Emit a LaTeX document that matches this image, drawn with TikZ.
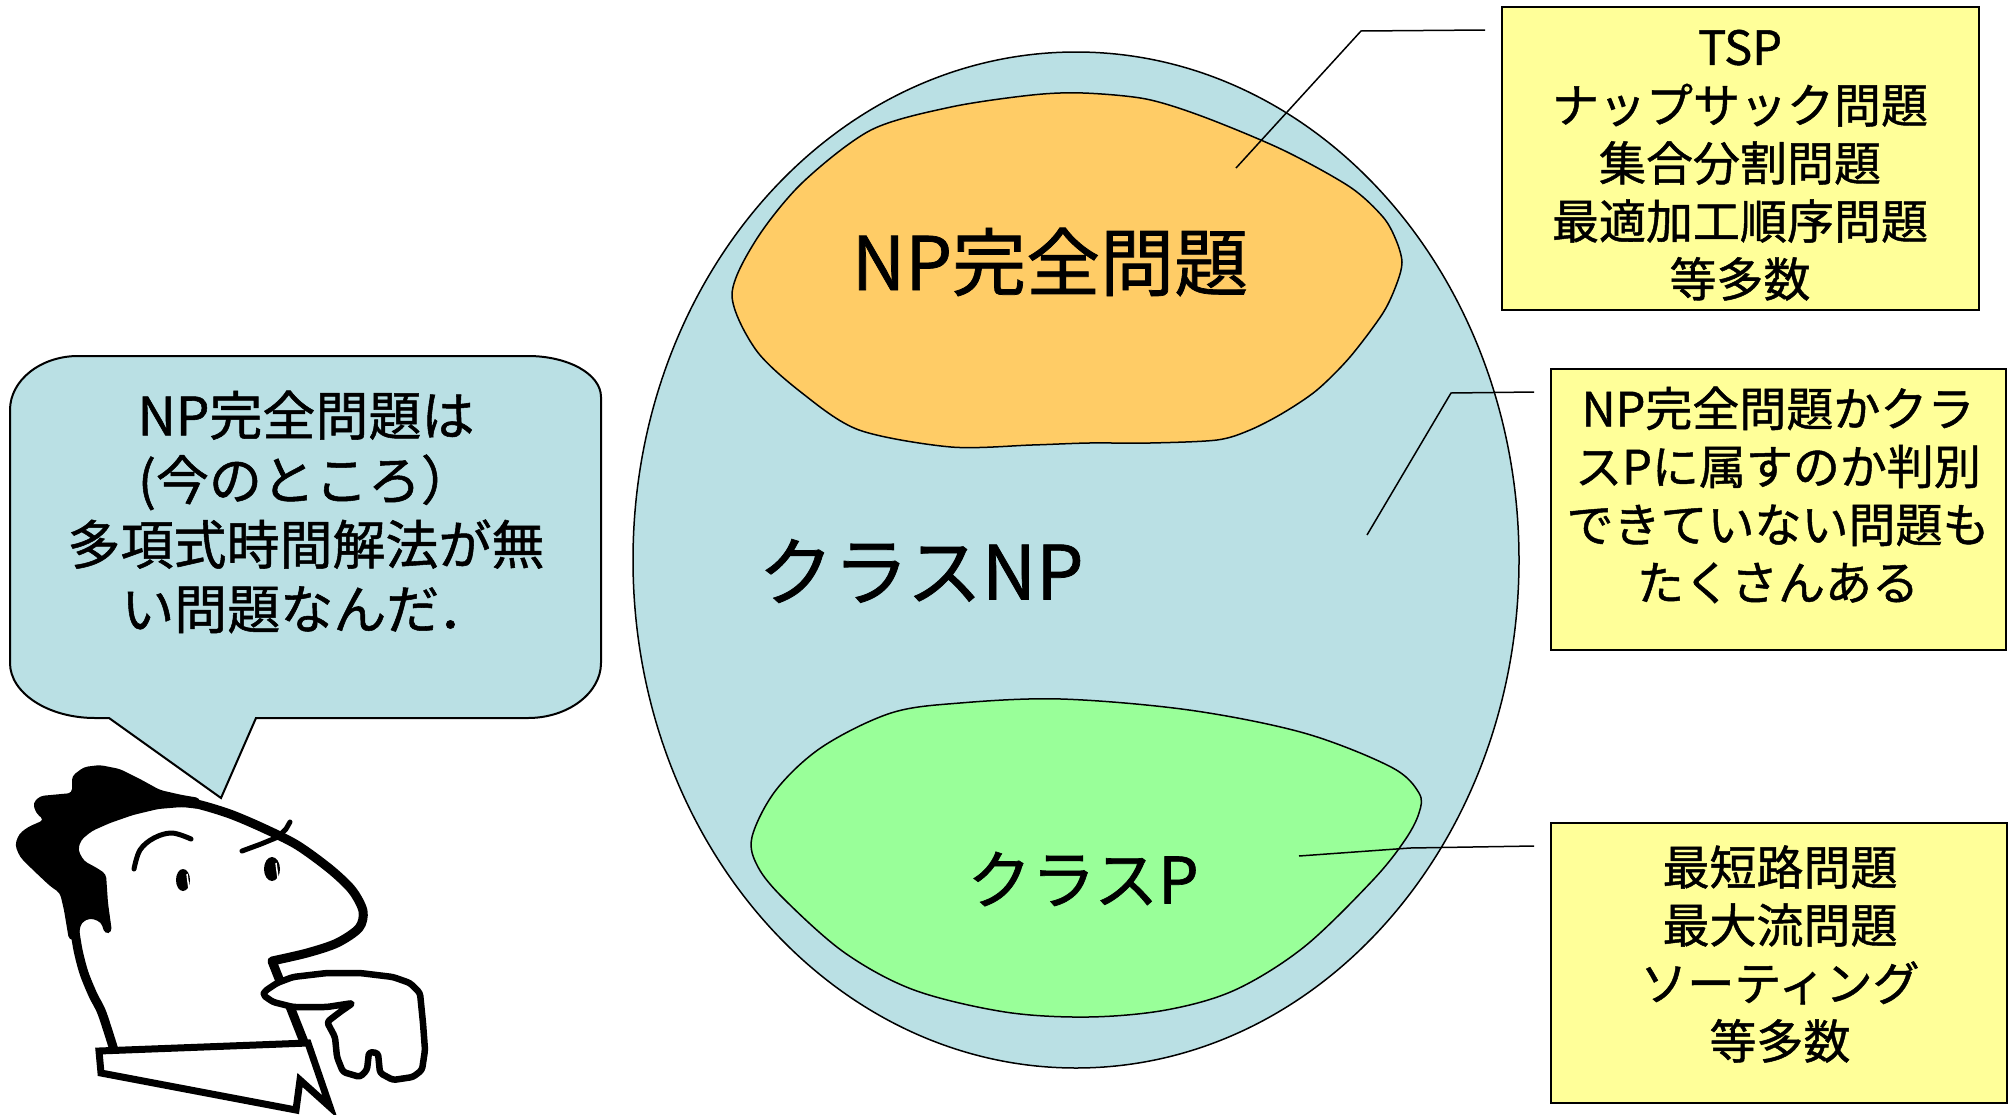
\documentclass[tikz,border=0pt]{standalone}
\usepackage{fontspec}
\setmainfont{Noto Sans CJK JP}[FakeBold=1.0]
\usetikzlibrary{calc}
\definecolor{npblue}{RGB}{186,224,228}
\definecolor{npcorange}{RGB}{255,204,102}
\definecolor{pgreen}{RGB}{153,255,153}
\definecolor{noteyellow}{RGB}{255,255,153}
\begin{document}
\begin{tikzpicture}[x=1pt,y=-1pt,
  region/.style={draw=black, line width=1.5pt},
  infobox/.style={draw=black, line width=2pt, fill=noteyellow, inner sep=0pt},
  infotext/.style={align=center, inner sep=0pt, font={\fontsize{47}{58}\selectfont}},
  leader/.style={draw=black, line width=1.5pt},
  figline/.style={draw=black, line cap=round, line join=round},
]
\useasboundingbox (0,0) rectangle (2013,1114);

% ---- class NP and its two sub-regions ----
\draw[region, fill=npblue] (1076,560) ellipse [x radius=443pt, y radius=508pt];

\draw[region, fill=npcorange] plot[smooth cycle, tension=0.5] coordinates {
  (732,295) (756,350) (802,393) (859,430) (951,447) (1032,445) (1089,443)
  (1150,443) (1217,440) (1250,430) (1283,413) (1317,390) (1350,357)
  (1383,313) (1397,283) (1402,262) (1396,240) (1383,217) (1350,187)
  (1283,150) (1204,117) (1146,99)
  (1083,93) (1032,95) (951,107) (871,130) (802,183) (756,240)};

\draw[region, fill=pgreen] plot[smooth cycle, tension=0.55] coordinates {
  (752,837) (758,867) (785,900) (845,953) (914,990) (1005,1012) (1088,1017)
  (1166,1010) (1235,990) (1304,947) (1373,880) (1405,840) (1419,813)
  (1419,793) (1391,767) (1304,733) (1189,710) (1061,699) (960,703)
  (891,713) (822,747) (776,790)};

\node[font={\fontsize{74}{80}\selectfont}, inner sep=0pt] (npc) at (1050,262) {NP完全問題};
\node[font={\fontsize{75}{80}\selectfont}, inner sep=0pt] (classnp) at (921,571) {クラスNP};
\node[font={\fontsize{64}{70}\selectfont}, inner sep=0pt] (classp) at (1083,879) {クラスP};

% ---- example boxes ----
\node[infobox, minimum width=477pt, minimum height=303pt] (tspbox) at (1740.5,158.5) {};
\node[infotext] (tsptext) at (1740,164) {TSP\vphantom{問}\\ナップサック問題\\集合分割問題\\最適加工順序問題\\等多数};

\node[infobox, minimum width=455pt, minimum height=281pt] (openbox) at (1778.5,509.5) {};
\node[infotext] (opentext) at (1778,495) {NP完全問題かクラ\\スPに属すのか判別\\できていない問題も\\たくさんある};

\node[infobox, minimum width=456pt, minimum height=280pt] (pbox) at (1779,963) {};
\node[infotext] (ptext) at (1780,954) {最短路問題\\最大流問題\\ソーティング\\等多数};

% ---- callout leaders ----
\coordinate (tspTip) at (1236,168);
\coordinate (tspElbow) at (1361,31);
\coordinate (tspEnd) at ($(tspbox.north west)+(-16,24)$);
\draw[leader] (tspTip) -- (tspElbow) -- (tspEnd);

\coordinate (openTip) at (1367,535);
\coordinate (openElbow) at (1451,393);
\coordinate (openEnd) at ($(openbox.north west)+(-16,24)$);
\draw[leader] (openTip) -- (openElbow) -- (openEnd);

\coordinate (pTip) at (1299,856);
\coordinate (pElbow) at (1410,848);
\coordinate (pEnd) at ($(pbox.north west)+(-16,24)$);
\draw[leader] (pTip) -- (pElbow) -- (pEnd);

% ---- speech bubble ----
\draw[draw=black, line width=2pt, fill=npblue, line join=miter]
  (78,356) -- (528,356) .. controls (568,356) and (601,374) .. (601,397)
  -- (601,663) .. controls (601,693) and (568,718) .. (528,718)
  -- (256,718) -- (221,798) -- (109,718) -- (95,718)
  .. controls (48,718) and (10,693) .. (10,663)
  -- (10,410) .. controls (10,380) and (41,356) .. (78,356) -- cycle;
\node[align=center, inner sep=0pt, font={\fontsize{53}{64.5}\selectfont}] (bubbletext) at (306,512)
  {NP完全問題は\\(今のところ）\\多項式時間解法が無\\い問題なんだ．};

% ---- thinking man ----
% hair
\fill[black, rounded corners=4pt] (72,776) -- (84,767) -- (100,765) -- (120,769) -- (140,779)
  -- (160,790) -- (182,795) -- (200,798) -- (200,809) -- (182,807) -- (158,809)
  -- (133,815) -- (110,823) -- (92,831) -- (81,840) -- (78,850) -- (84,861)
  -- (97,868) -- (106,874) -- (108,903) -- (112,932) -- (105,934) -- (101,922)
  -- (90,918) -- (81,923) -- (78,940) -- (69,940) -- (64,910) -- (60,893)
  -- (50,886) -- (33,870) -- (20,857) -- (15,845) -- (19,834) -- (28,827)
  -- (44,820) -- (36,813) -- (33,803) -- (40,796) -- (72,793) -- cycle;
% skull, nose and neck
\draw[figline, line width=9pt] plot[smooth, tension=0.5] coordinates {
  (165,798) (197,804) (230,814) (263,828) (297,845) (330,869) (352,890)
  (363,911) (359,928) (337,943) (307,953) (272,961)} -- (304,1042);
% back of the head
\draw[figline, line width=9pt] plot[smooth, tension=0.5] coordinates {
  (74,925) (78,950) (84,973) (93,995) (102,1013) (114,1050)};
% eyebrows
\draw[figline, line width=5pt] plot[smooth, tension=0.6] coordinates {
  (134,869) (140,850) (154,838) (172,833) (191,839)};
\draw[figline, line width=5pt] (242,851) -- (261,844) -- (278,837) -- (286,829) -- (290,822);
% eyes
\fill[black] (183,880) ellipse [x radius=7pt, y radius=11pt];
\fill[black] (272,869) ellipse [x radius=8pt, y radius=12pt];
\draw[white, line width=1.5pt] (187,874) -- (189,889);
\draw[white, line width=1.5pt] (276,863) -- (278,878);
% collar
\draw[figline, line width=7pt, fill=white, line join=miter]
  (99,1051) -- (308,1043) -- (330,1107) -- (300,1080) -- (296,1110) -- (101,1073) -- cycle;
% hand under the chin
\draw[figline, line width=6.5pt, fill=white, rounded corners=3pt]
  (265,991) -- (277,983) -- (293,977) -- (327,973) -- (360,973) -- (393,977)
  -- (410,983) -- (420,993) -- (423,1023) -- (425,1050) -- (422,1070)
  -- (413,1077) -- (393,1080) -- (380,1073) -- (378,1053) -- (369,1052)
  -- (367,1070) -- (360,1077) -- (343,1072) -- (337,1057) -- (335,1037)
  -- (327,1022) -- (340,1012) -- (353,1003) -- (327,1007) -- (293,1007)
  -- (273,1002) -- (263,995) -- cycle;
\end{tikzpicture}
\end{document}
